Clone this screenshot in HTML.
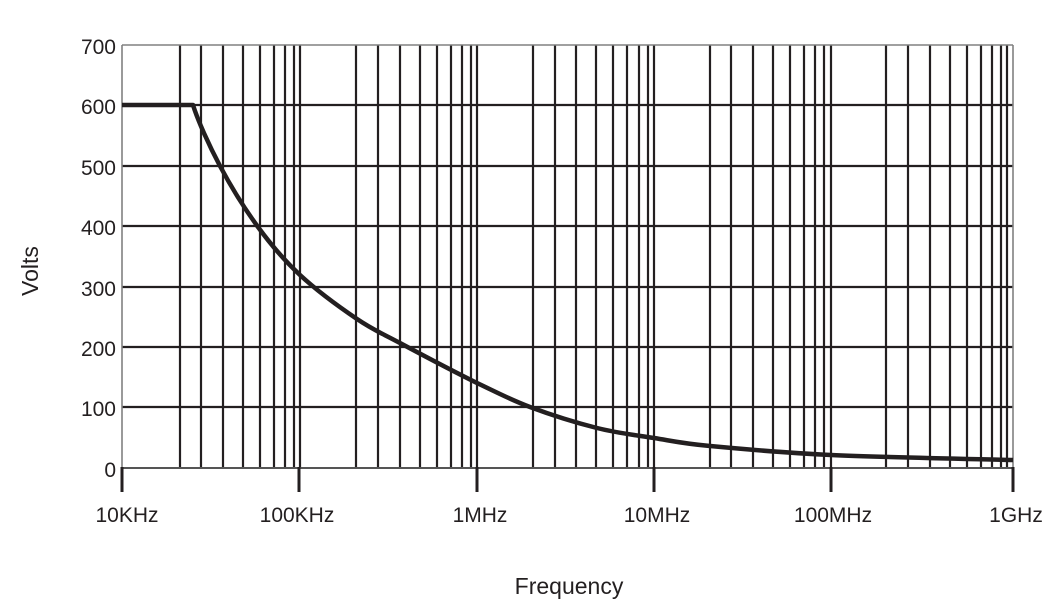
<!DOCTYPE html>
<html>
<head>
<meta charset="utf-8">
<style>
html,body{margin:0;padding:0;background:#fff;}
svg{display:block;}
text{font-family:"Liberation Sans",Arial,sans-serif;fill:#231f20;}
</style>
</head>
<body>
<svg width="1052" height="611" viewBox="0 0 1052 611" xmlns="http://www.w3.org/2000/svg">
<rect width="1052" height="611" fill="#fff"/>
<!-- horizontal grid -->
<g stroke="#231f20" stroke-width="2.2">
<line x1="122" y1="105" x2="1013" y2="105"/>
<line x1="122" y1="166" x2="1013" y2="166"/>
<line x1="122" y1="226" x2="1013" y2="226"/>
<line x1="122" y1="287" x2="1013" y2="287"/>
<line x1="122" y1="347" x2="1013" y2="347"/>
<line x1="122" y1="407" x2="1013" y2="407"/>
</g>
<!-- vertical grid -->
<g stroke="#231f20" stroke-width="2.2">
<line x1="180" y1="45" x2="180" y2="468"/><line x1="201" y1="45" x2="201" y2="468"/><line x1="223" y1="45" x2="223" y2="468"/><line x1="243" y1="45" x2="243" y2="468"/><line x1="260" y1="45" x2="260" y2="468"/><line x1="274" y1="45" x2="274" y2="468"/><line x1="285" y1="45" x2="285" y2="468"/><line x1="294" y1="45" x2="294" y2="468"/><line x1="300" y1="45" x2="300" y2="468"/>
<line x1="356" y1="45" x2="356" y2="468"/><line x1="378" y1="45" x2="378" y2="468"/><line x1="400" y1="45" x2="400" y2="468"/><line x1="420" y1="45" x2="420" y2="468"/><line x1="437" y1="45" x2="437" y2="468"/><line x1="451" y1="45" x2="451" y2="468"/><line x1="462" y1="45" x2="462" y2="468"/><line x1="471" y1="45" x2="471" y2="468"/><line x1="477" y1="45" x2="477" y2="468"/>
<line x1="533" y1="45" x2="533" y2="468"/><line x1="555" y1="45" x2="555" y2="468"/><line x1="576" y1="45" x2="576" y2="468"/><line x1="596" y1="45" x2="596" y2="468"/><line x1="613" y1="45" x2="613" y2="468"/><line x1="627" y1="45" x2="627" y2="468"/><line x1="639" y1="45" x2="639" y2="468"/><line x1="648" y1="45" x2="648" y2="468"/><line x1="654" y1="45" x2="654" y2="468"/>
<line x1="710" y1="45" x2="710" y2="468"/><line x1="731" y1="45" x2="731" y2="468"/><line x1="753" y1="45" x2="753" y2="468"/><line x1="773" y1="45" x2="773" y2="468"/><line x1="790" y1="45" x2="790" y2="468"/><line x1="804" y1="45" x2="804" y2="468"/><line x1="815" y1="45" x2="815" y2="468"/><line x1="824" y1="45" x2="824" y2="468"/><line x1="831" y1="45" x2="831" y2="468"/>
<line x1="886" y1="45" x2="886" y2="468"/><line x1="908" y1="45" x2="908" y2="468"/><line x1="930" y1="45" x2="930" y2="468"/><line x1="950" y1="45" x2="950" y2="468"/><line x1="967" y1="45" x2="967" y2="468"/><line x1="981" y1="45" x2="981" y2="468"/><line x1="992" y1="45" x2="992" y2="468"/><line x1="1001" y1="45" x2="1001" y2="468"/><line x1="1007" y1="45" x2="1007" y2="468"/>
</g>
<!-- borders -->
<g stroke="#808080" stroke-width="1.6" fill="none">
<line x1="122" y1="45" x2="1013" y2="45"/>
<line x1="122" y1="45" x2="122" y2="468"/>
<line x1="1013" y1="45" x2="1013" y2="468"/>
</g>
<line x1="122" y1="468" x2="1013" y2="468" stroke="#555" stroke-width="2"/>
<!-- x ticks -->
<g stroke="#231f20" stroke-width="3">
<line x1="122" y1="467" x2="122" y2="492"/>
<line x1="299" y1="467" x2="299" y2="492"/>
<line x1="477" y1="467" x2="477" y2="492"/>
<line x1="654" y1="467" x2="654" y2="492"/>
<line x1="831" y1="467" x2="831" y2="492"/>
<line x1="1013" y1="467" x2="1013" y2="492"/>
</g>
<!-- curve -->
<path fill="none" stroke="#231f20" stroke-width="4.5" stroke-linejoin="round" stroke-linecap="butt"
d="M122,105 L193,105
C198,121 209.2,145.7 220,166
C230.8,186.3 244.7,208.8 258,227
C271.3,245.2 283.5,259.7 300,275
C316.5,290.3 340.3,307.7 357,319
C373.7,330.3 380,332.3 400,343
C420,353.7 455.3,372.3 477,383
C498.7,393.3 510,399.5 530,407
C550,414.5 576.3,422.8 597,428
C617.7,433.2 635.2,435 654,438
C672.8,441 680.5,443.2 710,446
C739.5,448.8 780.5,452.7 831,455
C881.5,457.3 982.7,459.2 1013,460"/>
<!-- y labels -->
<g font-size="21" text-anchor="end">
<text x="116" y="54">700</text>
<text x="116" y="114">600</text>
<text x="116" y="175">500</text>
<text x="116" y="235">400</text>
<text x="116" y="296">300</text>
<text x="116" y="356">200</text>
<text x="116" y="416">100</text>
<text x="116" y="477">0</text>
</g>
<!-- x labels -->
<g font-size="21" text-anchor="middle">
<text x="127" y="522">10KHz</text>
<text x="297" y="522">100KHz</text>
<text x="480" y="522">1MHz</text>
<text x="657" y="522">10MHz</text>
<text x="833" y="522">100MHz</text>
<text x="1016" y="522">1GHz</text>
</g>
<text x="569" y="594" font-size="23" text-anchor="middle">Frequency</text>
<text transform="translate(38,271) rotate(-90)" font-size="23" text-anchor="middle">Volts</text>
</svg>
</body>
</html>
